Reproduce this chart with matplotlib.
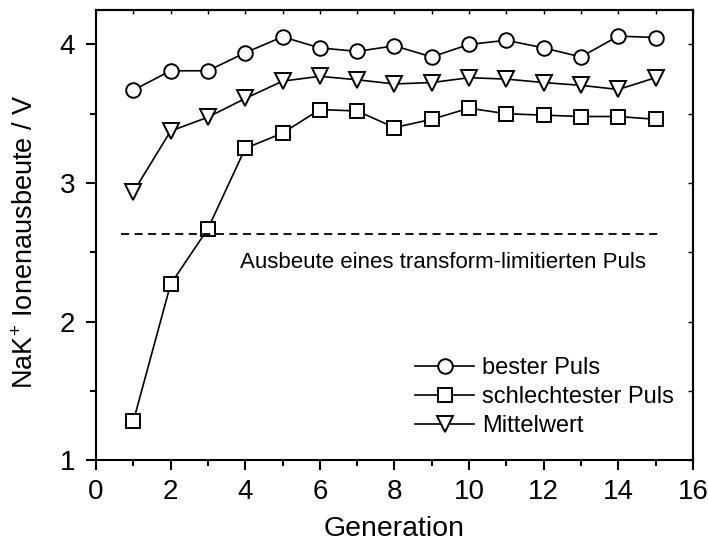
import matplotlib
matplotlib.use("Agg")
import matplotlib.pyplot as plt
from matplotlib.ticker import MultipleLocator

plt.rcParams['font.family'] = ['Liberation Sans', 'DejaVu Sans']
plt.rcParams['mathtext.fontset'] = 'custom'
plt.rcParams['mathtext.rm'] = 'Liberation Sans'
plt.rcParams['mathtext.it'] = 'Liberation Sans:italic'

generation = list(range(1, 16))
bester = [3.67, 3.81, 3.81, 3.94, 4.055, 3.975, 3.95, 3.99, 3.91, 4.00, 4.03, 3.975, 3.91, 4.06, 4.05]
schlechtester = [1.28, 2.27, 2.67, 3.25, 3.36, 3.53, 3.52, 3.40, 3.46, 3.54, 3.50, 3.49, 3.48, 3.48, 3.46]
mittelwert = [2.935, 3.375, 3.475, 3.61, 3.735, 3.77, 3.745, 3.715, 3.725, 3.76, 3.75, 3.725, 3.705, 3.675, 3.76]
tl_level = 2.635
tl_range = [0.68, 15.16]
labels = ['bester Puls', 'schlechtester Puls', 'Mittelwert']
annotation = 'Ausbeute eines transform-limitierten Puls'

fig = plt.figure(figsize=(7.08, 5.44), dpi=100)
ax = fig.add_axes([0.1356, 0.154, 0.843, 0.828])

common = dict(color='black', lw=1.2, mfc='white', mec='black', mew=1.4)
ax.plot(generation, bester, marker='o', ms=10.5, label=labels[0], **common)
ax.plot(generation, schlechtester, marker='s', ms=9.5, label=labels[1], **common)
ax.plot(generation, mittelwert, marker='v', ms=11, label=labels[2], **common)

ax.plot(tl_range, [tl_level, tl_level], color='black', lw=1.3, ls=(0, (4.5, 3)))
ax.text(9.3, 2.43, annotation, ha='center', va='center', fontsize=16)

ax.set_xlim(0, 16)
ax.set_ylim(1, 4.25)
ax.xaxis.set_major_locator(MultipleLocator(2))
ax.xaxis.set_minor_locator(MultipleLocator(1))
ax.yaxis.set_major_locator(MultipleLocator(1))
ax.yaxis.set_minor_locator(MultipleLocator(0.5))
ax.tick_params(which='both', direction='out', width=1.5, labelsize=20)
ax.tick_params(axis='x', which='both', pad=6)
ax.tick_params(axis='y', which='both', pad=7.5)
ax.tick_params(which='major', length=7.5)
ax.tick_params(which='minor', length=4)
ax.tick_params(which='both', top=False, right=False)

sec = ax.secondary_xaxis('top')
sec.xaxis.set_major_locator(MultipleLocator(1))
sec.tick_params(direction='in', length=3, width=1, labeltop=False)
secy = ax.secondary_yaxis('right')
secy.yaxis.set_major_locator(MultipleLocator(0.5))
secy.tick_params(direction='in', length=3.5, width=1, labelright=False)
for s in list(sec.spines.values()) + list(secy.spines.values()):
    s.set_linewidth(1.5)

for s in ax.spines.values():
    s.set_linewidth(1.5)

ax.set_xlabel('Generation', fontsize=20.5, labelpad=8)
ax.set_ylabel('NaK$^{+}$ Ionenausbeute / V', fontsize=19.5)
ax.yaxis.set_label_coords(-0.095, 0.485)

leg = ax.legend(loc='center left', bbox_to_anchor=(8.56, 1.455), bbox_transform=ax.transData,
                frameon=False, fontsize=17, handlelength=2.5, handletextpad=0.33,
                labelspacing=0.3, borderaxespad=0, borderpad=0)

fig.savefig('out.png', dpi=100)
